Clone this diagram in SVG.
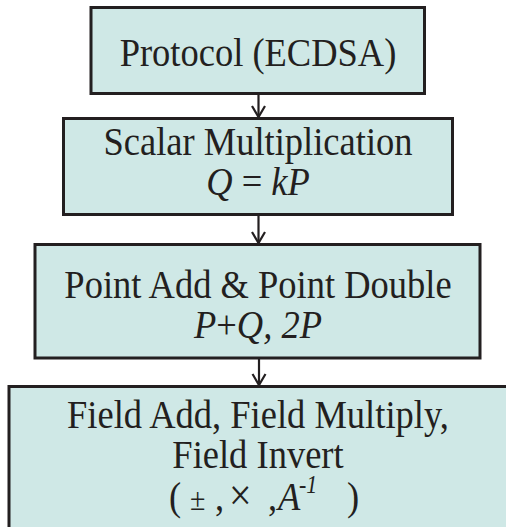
<svg xmlns="http://www.w3.org/2000/svg" width="506" height="527" viewBox="0 0 506 527">
<defs>
<style>
.box{fill:#cfe8e6;stroke:#231f20;stroke-width:3}
.t{font-family:"Liberation Serif","Times New Roman",serif;font-size:36.5px;fill:#231f20;text-anchor:middle}
.i{font-style:italic}
.conn{stroke:#231f20;stroke-width:2.2;fill:none}
</style>
</defs>
<rect width="506" height="527" fill="#ffffff"/>
<g id="connectors">
<line class="conn" x1="258.5" y1="94" x2="258.5" y2="117"/>
<line class="conn" x1="258.5" y1="215" x2="258.5" y2="243"/>
<line class="conn" x1="259" y1="359" x2="259" y2="385"/>
<path class="conn" d="M252,106 L258.5,117 L265,106"/>
<path class="conn" d="M252,232 L258.5,243 L265,232"/>
<path class="conn" d="M252.5,374 L259,385 L265.5,374"/>
</g>
<g id="protocol">
<rect class="box" x="91" y="7.5" width="333.5" height="86"/>
<text class="t" x="258" y="66" transform="matrix(1 0 0 1.1 0 -6.6)">Protocol (ECDSA)</text>
</g>
<g id="scalar">
<rect class="box" x="63.5" y="118.5" width="389" height="96"/>
<text class="t" x="258" y="155" transform="matrix(1 0 0 1.1 0 -15.5)">Scalar Multiplication</text>
<text class="t" x="258" y="195" transform="matrix(1 0 0 1.1 0 -19.5)"><tspan class="i">Q</tspan> = <tspan class="i">kP</tspan></text>
</g>
<g id="point">
<rect class="box" x="35" y="244.5" width="445" height="113.5"/>
<text class="t" x="258" y="298" transform="matrix(1 0 0 1.1 0 -29.8)">Point Add &amp; Point Double</text>
<text class="t" x="258" y="338" transform="matrix(1 0 0 1.1 0 -33.8)"><tspan class="i">P</tspan>+<tspan class="i">Q, 2P</tspan></text>
</g>
<g id="field">
<rect class="box" x="9" y="386.5" width="500" height="160"/>
<text class="t" x="258" y="428" transform="matrix(1 0 0 1.1 0 -42.8)">Field Add, Field Multiply,</text>
<text class="t" x="258" y="468" transform="matrix(1 0 0 1.1 0 -46.8)">Field Invert</text>
<text class="t" style="text-anchor:start" y="510" transform="matrix(1 0 0 1.1 0 -51)"><tspan x="169">(</tspan><tspan x="190" font-size="28">±</tspan><tspan x="215">,</tspan><tspan x="229" font-size="40">×</tspan><tspan x="268">,</tspan><tspan x="278" class="i">A</tspan><tspan x="299" y="495" font-size="22">-</tspan><tspan class="i" y="495" font-size="22">1</tspan><tspan x="347" y="510">)</tspan></text>
</g>
</svg>
